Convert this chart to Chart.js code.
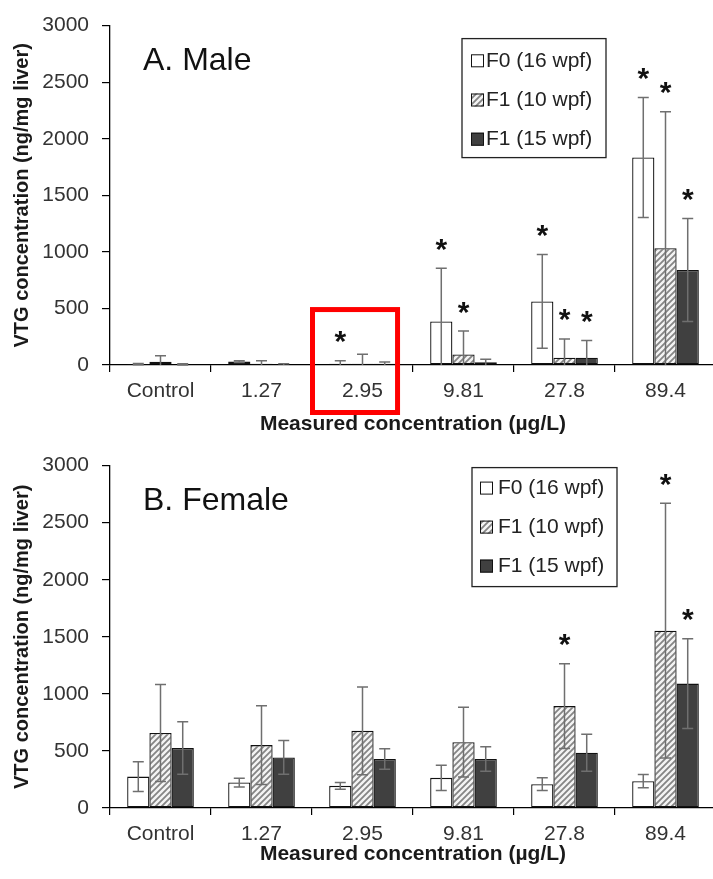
<!DOCTYPE html>
<html><head><meta charset="utf-8">
<script src="https://cdn.jsdelivr.net/npm/chart.js@4.4.1/dist/chart.umd.min.js"></script>
<style>
html,body{margin:0;padding:0;background:#fff;overflow:hidden;width:713px;height:879px;}
#c1{position:absolute;left:0;top:0;}
#c2{position:absolute;left:0;top:440px;}
</style></head><body>
<canvas id="c1" width="720" height="440"></canvas>
<canvas id="c2" width="720" height="439"></canvas>
<script>
// ---------- data ----------
const categories = ['Control', '1.27', '2.95', '9.81', '27.8', '89.4'];
const seriesLabels = ['F0 (16 wpf)', 'F1 (10 wpf)', 'F1 (15 wpf)'];
const yTicks = [0, 500, 1000, 1500, 2000, 2500, 3000];

// A. Male
const maleF0      = [8, 30, 10, 385, 562, 1834];
const maleF0Err   = [5, 8, 28, 470, 415, 530];
const maleF0Sig   = [0, 0, 1, 1, 1, 1];
const maleF1a     = [29, 10, 10, 93, 64, 1032];
const maleF1aErr  = [52, 28, 86, 207, 166, 1207];
const maleF1aSig  = [0, 0, 0, 1, 1, 1];
const maleF1b     = [6, 5, 10, 24, 64, 840];
const maleF1bErr  = [5, 5, 16, 26, 152, 455];
const maleF1bSig  = [0, 0, 0, 0, 1, 1];

// B. Female
const femF0       = [275, 223, 194, 264, 209, 235];
const femF0Err    = [130, 38, 30, 110, 55, 58];
const femF0Sig    = [0, 0, 0, 0, 0, 0];
const femF1a      = [658, 551, 676, 577, 893, 1554];
const femF1aErr   = [425, 345, 385, 305, 371, 1116];
const femF1aSig   = [0, 0, 0, 0, 1, 1];
const femF1b      = [525, 443, 429, 429, 484, 1090];
const femF1bErr   = [230, 148, 90, 107, 162, 394];
const femF1bSig   = [0, 0, 0, 0, 0, 1];

const highlightCategory = '2.95';

// ---------- styling helpers ----------
const FONT = '"Liberation Sans", Arial, sans-serif';

function makeHatch(ctx) {
  const c = document.createElement('canvas'); c.width = 6; c.height = 6;
  const g = c.getContext('2d');
  g.fillStyle = '#f4f4f4'; g.fillRect(0, 0, 6, 6);
  g.strokeStyle = '#858585'; g.lineWidth = 1.8;
  g.beginPath();
  g.moveTo(0, 6); g.lineTo(6, 0);
  g.moveTo(-3, 3); g.lineTo(3, -3);
  g.moveTo(3, 9); g.lineTo(9, 3);
  g.stroke();
  return ctx.createPattern(c, 'repeat');
}

const errorPlugin = {
  id: 'errBars',
  afterDatasetsDraw(chart) {
    const ctx = chart.ctx, ys = chart.scales.y, area = chart.chartArea;
    chart.data.datasets.forEach((ds, i) => {
      const meta = chart.getDatasetMeta(i);
      meta.data.forEach((bar, j) => {
        const v = ds.data[j], e = ds.errors[j];
        const yT = ys.getPixelForValue(v + e);
        const lo = v - e;
        const yB = lo > 0 ? ys.getPixelForValue(lo) : area.bottom;
        ctx.save();
        ctx.strokeStyle = '#6f6f6f'; ctx.lineWidth = 1.5;
        ctx.beginPath();
        ctx.moveTo(bar.x, yT); ctx.lineTo(bar.x, yB);
        ctx.moveTo(bar.x - 5.5, yT); ctx.lineTo(bar.x + 5.5, yT);
        if (lo > 0) { ctx.moveTo(bar.x - 5.5, yB); ctx.lineTo(bar.x + 5.5, yB); }
        ctx.stroke();
        if (ds.sig[j]) {
          ctx.fillStyle = '#111';
          ctx.font = 'bold 30px ' + FONT;
          ctx.textAlign = 'center'; ctx.textBaseline = 'alphabetic';
          ctx.fillText('*', bar.x, yT - 9.5);
        }
        ctx.restore();
      });
    });
  }
};

const legendPlugin = {
  id: 'boxLegend',
  afterDraw(chart, args, o) {
    const a = chart.chartArea, ctx = chart.ctx;
    const L = a.left + o.dx, T = a.top + o.dy;
    ctx.save();
    ctx.fillStyle = '#fff'; ctx.fillRect(L, T, o.w, o.h);
    ctx.strokeStyle = '#222'; ctx.lineWidth = 1.3; ctx.strokeRect(L, T, o.w, o.h);
    chart.data.datasets.forEach((ds, i) => {
      const cy = T + o.first + i * o.gap;
      ctx.fillStyle = ds.backgroundColor;
      ctx.fillRect(L + o.sx, cy - 6, 13, 13);
      ctx.strokeStyle = '#111'; ctx.lineWidth = 1;
      ctx.strokeRect(L + o.sx + 0.5, cy - 5.5, 12, 12);
      ctx.fillStyle = '#222';
      ctx.font = '21px ' + FONT;
      ctx.textBaseline = 'middle'; ctx.textAlign = 'left';
      ctx.fillText(ds.label, L + o.tx, cy + 1);
    });
    ctx.restore();
  }
};

const panelTitlePlugin = {
  id: 'panelTitle',
  afterDraw(chart, args, o) {
    const a = chart.chartArea, ctx = chart.ctx;
    ctx.save();
    ctx.fillStyle = '#111';
    ctx.font = '32px ' + FONT;
    ctx.textAlign = 'left'; ctx.textBaseline = 'middle';
    ctx.fillText(o.text, a.left + o.dx, a.top + o.dy);
    ctx.restore();
  }
};

const redBoxPlugin = {
  id: 'redBox',
  afterDraw(chart, args, o) {
    if (!o || o.category == null) return;
    const xs = chart.scales.x, ys = chart.scales.y, a = chart.chartArea, ctx = chart.ctx;
    const idx = chart.data.labels.indexOf(o.category);
    if (idx < 0) return;
    const cx = xs.getPixelForValue(idx);
    const cw = xs.width / chart.data.labels.length;
    const L = cx - 0.495 * cw, R = cx + 0.347 * cw;
    const T = ys.getPixelForValue(490), B = a.bottom + 47.5;
    ctx.save();
    ctx.strokeStyle = '#ff0000'; ctx.lineWidth = 5;
    ctx.strokeRect(L, T, R - L, B - T);
    ctx.restore();
  }
};

function buildChart(id, vals, panel, layout) {
  const canvas = document.getElementById(id);
  const ctx = canvas.getContext('2d');
  const hatch = makeHatch(ctx);
  const fills = ['#ffffff', hatch, '#404040'];
  const datasets = vals.map((s, i) => ({
    label: seriesLabels[i],
    data: s.v, errors: s.e, sig: s.s,
    backgroundColor: fills[i],
    borderColor: '#111',
    borderWidth: 1.3,
    borderSkipped: false,
    categoryPercentage: 0.66,
    barPercentage: 1.0
  }));
  return new Chart(ctx, {
    type: 'bar',
    data: { labels: categories, datasets },
    plugins: [errorPlugin, legendPlugin, panelTitlePlugin, redBoxPlugin],
    options: {
      responsive: false, animation: false, devicePixelRatio: 1,
      layout: { padding: { top: layout.top, right: 4, left: 0, bottom: 0 } },
      plugins: {
        legend: { display: false }, tooltip: { enabled: false },
        boxLegend: layout.legend,
        panelTitle: { text: panel, dx: 33, dy: 36 },
        redBox: layout.redBox || {}
      },
      scales: {
        x: {
          afterFit(s) { s.height = layout.xh; },
          grid: { display: true, drawOnChartArea: false, drawTicks: true, tickLength: 7, color: '#000', lineWidth: 1.2, offset: true },
          border: { display: true, color: '#000', width: 1.3 },
          ticks: { color: '#333', font: { family: FONT, size: 21 }, padding: 7, maxRotation: 0 },
          title: { display: true, text: 'Measured concentration (µg/L)', color: '#1a1a1a',
                   font: { family: FONT, size: 21, weight: 'bold' }, padding: { top: 0, bottom: layout.xtp } }
        },
        y: {
          min: 0, max: 3000,
          afterFit(s) { s.width = 110; },
          afterBuildTicks(s) { s.ticks = yTicks.map(v => ({ value: v })); },
          grid: { display: true, drawOnChartArea: false, drawTicks: true, tickLength: 8, color: '#000', lineWidth: 1.2 },
          border: { display: true, color: '#000', width: 1.3 },
          ticks: { color: '#333', font: { family: FONT, size: 21 }, padding: 13, callback: v => String(v) },
          title: { display: true, text: 'VTG concentration (ng/mg liver)', color: '#1a1a1a',
                   font: { family: FONT, size: 20, weight: 'bold' }, padding: { top: 10, bottom: 4 } }
        }
      }
    }
  });
}

buildChart('c1', [
  { v: maleF0, e: maleF0Err, s: maleF0Sig },
  { v: maleF1a, e: maleF1aErr, s: maleF1aSig },
  { v: maleF1b, e: maleF1bErr, s: maleF1bSig }
], 'A. Male', {
  top: 22, xh: 75, xtp: 3,
  legend: { dx: 352, dy: 13, w: 144, h: 119, first: 21.7, gap: 39.2, sx: 9, tx: 24 },
  redBox: { category: highlightCategory }
});

buildChart('c2', [
  { v: femF0, e: femF0Err, s: femF0Sig },
  { v: femF1a, e: femF1aErr, s: femF1aSig },
  { v: femF1b, e: femF1bErr, s: femF1bSig }
], 'B. Female', {
  top: 23, xh: 71, xtp: 12,
  legend: { dx: 362, dy: 2, w: 145, h: 119, first: 20, gap: 39, sx: 8, tx: 26 }
});
</script>
</body></html>
